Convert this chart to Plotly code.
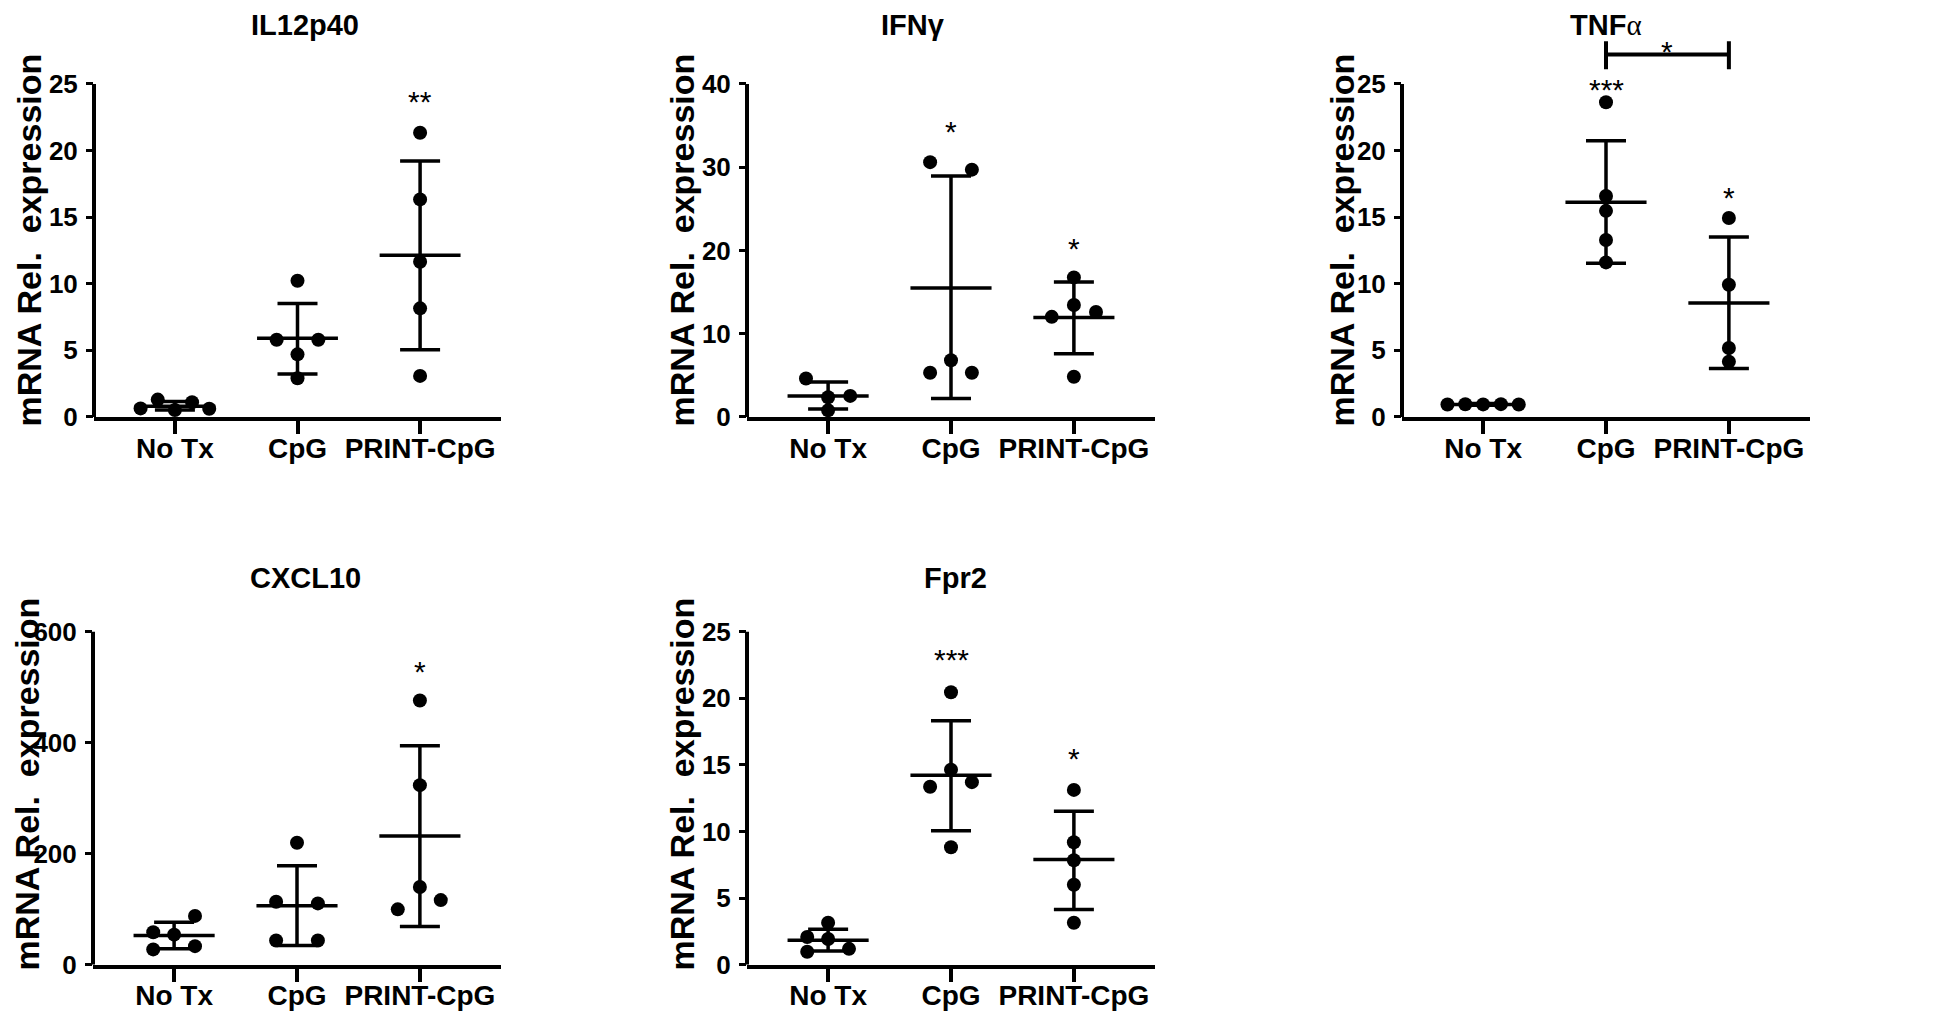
import plotly.graph_objects as go

# ---------------- data ----------------
categories = ["No Tx", "CpG", "PRINT-CpG"]

# IL12p40
il12_notx = [0.64, 1.30, 0.52, 1.10, 0.62]
il12_cpg = [5.79, 10.22, 4.70, 2.90, 5.79]
il12_print = [21.33, 16.33, 11.65, 8.15, 3.08]
il12_mean = [0.81, 5.91, 12.14]
il12_upper = [1.16, 8.52, 19.21]
il12_lower = [0.52, 3.23, 5.05]
il12_ticks = [0, 5, 10, 15, 20, 25]

# IFN-gamma
ifng_notx = [4.62, 2.37, 2.53, 0.79]
ifng_cpg = [30.6, 29.7, 6.8, 5.3, 5.3]
ifng_print = [16.76, 13.44, 12.02, 12.6, 4.82]
ifng_mean = [2.53, 15.49, 11.94]
ifng_upper = [4.19, 28.93, 16.2]
ifng_lower = [0.95, 2.21, 7.59]
ifng_ticks = [0, 10, 20, 30, 40]

# TNF-alpha
tnfa_notx = [0.93, 0.95, 0.94, 0.96, 0.93]
tnfa_cpg = [23.62, 16.58, 15.47, 13.28, 11.6]
tnfa_print = [14.93, 9.92, 5.18, 4.15]
tnfa_mean = [0.94, 16.12, 8.56]
tnfa_upper = [1.0, 20.73, 13.5]
tnfa_lower = [0.88, 11.53, 3.63]
tnfa_ticks = [0, 5, 10, 15, 20, 25]

# CXCL10
cxcl10_notx = [88.2, 58.6, 54.4, 27.8, 33.7]
cxcl10_cpg = [220.0, 113.6, 110.7, 43.8, 43.8]
cxcl10_print = [476.3, 323.7, 140.2, 100.0, 116.6]
cxcl10_mean = [52.7, 106.5, 232.0]
cxcl10_upper = [76.9, 178.7, 394.7]
cxcl10_lower = [29.0, 34.9, 69.2]
cxcl10_ticks = [0, 200, 400, 600]

# Fpr2
fpr2_notx = [3.16, 2.09, 1.94, 0.98, 1.2]
fpr2_cpg = [20.46, 14.65, 13.37, 13.71, 8.83]
fpr2_print = [13.13, 9.2, 7.85, 6.01, 3.16]
fpr2_mean = [1.84, 14.23, 7.9]
fpr2_upper = [2.67, 18.33, 11.53]
fpr2_lower = [1.03, 10.06, 4.15]
fpr2_ticks = [0, 5, 10, 15, 20, 25]

# significance labels: (text, category index, value height)
il12_sig = [("**", 2, 23.7)]
ifng_sig = [("*", 1, 34.3), ("*", 2, 20.2)]
tnfa_sig = [("***", 1, 24.6), ("*", 2, 16.5), ("*", 1.5, 27.4)]
cxcl10_sig = [("*", 2, 529)]
fpr2_sig = [("***", 1, 22.9), ("*", 2, 15.5)]

# TNF-alpha bracket between CpG and PRINT-CpG
tnfa_bracket_cats = [1, 2]
tnfa_bracket_level = 27.2
tnfa_bracket_span = [26.1, 28.2]

# horizontal scatter of points within a column (category units)
il12_jit = [[-0.28, -0.14, 0, 0.14, 0.28], [-0.17, 0, 0, 0, 0.17], [0, 0, 0, 0, 0]]
ifng_jit = [[-0.18, 0, 0.18, 0], [-0.17, 0.17, 0, -0.17, 0.17], [0, 0, -0.18, 0.18, 0]]
tnfa_jit = [[-0.29, -0.145, 0, 0.145, 0.29], [0, 0, 0, 0, 0], [0, 0, 0, 0]]
cxcl10_jit = [[0.17, -0.17, 0, -0.17, 0.17], [0, -0.17, 0.17, -0.17, 0.17], [0, 0, 0, -0.18, 0.17]]
fpr2_jit = [[0, -0.17, 0, -0.17, 0.17], [0, 0, -0.17, 0.17, 0], [0, 0, 0, 0, 0]]

titles = ["IL12p40", "IFNγ",
          "TNF<span style='font-weight:normal;font-family:\"Liberation Serif\",serif'>α</span>",
          "CXCL10", "Fpr2"]
ytitle = "mRNA Rel.\u00a0 expression"

panels = [
    dict(groups=[il12_notx, il12_cpg, il12_print], jit=il12_jit, mean=il12_mean,
         upper=il12_upper, lower=il12_lower, ticks=il12_ticks, sig=il12_sig),
    dict(groups=[ifng_notx, ifng_cpg, ifng_print], jit=ifng_jit, mean=ifng_mean,
         upper=ifng_upper, lower=ifng_lower, ticks=ifng_ticks, sig=ifng_sig),
    dict(groups=[tnfa_notx, tnfa_cpg, tnfa_print], jit=tnfa_jit, mean=tnfa_mean,
         upper=tnfa_upper, lower=tnfa_lower, ticks=tnfa_ticks, sig=tnfa_sig),
    dict(groups=[cxcl10_notx, cxcl10_cpg, cxcl10_print], jit=cxcl10_jit, mean=cxcl10_mean,
         upper=cxcl10_upper, lower=cxcl10_lower, ticks=cxcl10_ticks, sig=cxcl10_sig),
    dict(groups=[fpr2_notx, fpr2_cpg, fpr2_print], jit=fpr2_jit, mean=fpr2_mean,
         upper=fpr2_upper, lower=fpr2_lower, ticks=fpr2_ticks, sig=fpr2_sig),
]

# ---------------- layout geometry (pixels) ----------------
W, H = 1950, 1028
# x_left, x_right, y_zero, y_top_tick, y_domain_top
boxes = [
    (86, 493, 415, 77, 28),
    (739, 1147, 415, 77, 28),
    (1394, 1802, 415, 77, 28),
    (85, 493, 971, 633, 600),
    (739, 1147, 971, 633, 600),
]
title_pos = [(297, 17), (905, 17), (1598, 17), (297, 578), (947, 578)]
ytitle_pos = [(21, 236), (674, 236), (1334, 236), (19, 788), (674, 788)]

FONT = "Liberation Sans, Arial, sans-serif"
XR = [-0.66, 2.66]
MEAN_HW = 0.33

fig = go.Figure()
annotations = []
shapes = []
layout_axes = {}

for i, (p, box) in enumerate(zip(panels, boxes)):
    n = i + 1
    sfx = "" if n == 1 else str(n)
    xa, ya = "x" + sfx, "y" + sfx
    xl, xr, y0, yt, ytop = box
    tmax = p["ticks"][-1]
    rtop = tmax * (y0 - ytop) / (y0 - yt)

    layout_axes["xaxis" + sfx] = dict(
        domain=[xl / W, xr / W], anchor=ya, range=XR,
        tickmode="array", tickvals=[0, 1, 2], ticktext=categories,
        showline=True, linewidth=4, linecolor="black",
        ticks="outside", ticklen=13, tickwidth=4, tickcolor="black",
        tickfont=dict(family=FONT, size=28, color="black", weight="bold"),
        ticklabelstandoff=-10,
        showgrid=False, zeroline=False, fixedrange=True,
    )
    layout_axes["yaxis" + sfx] = dict(
        domain=[1 - y0 / H, 1 - ytop / H], anchor=xa, range=[0, rtop],
        tickmode="array", tickvals=p["ticks"],
        showline=False, ticks="outside", ticklen=7, tickwidth=3, tickcolor="black",
        tickfont=dict(family=FONT, size=26, color="black", weight="bold"),
        ticklabelstandoff=3,
        showgrid=False, zeroline=False, fixedrange=True,
    )
    # vertical axis line from 0 to the top tick
    shapes.append(dict(type="line", xref=xa + " domain", yref=ya, x0=0, x1=0,
                       y0=0, y1=tmax, line=dict(color="black", width=4)))

    # SD error bars
    fig.add_trace(go.Scatter(
        x=[0, 1, 2], y=p["mean"], xaxis=xa, yaxis=ya, mode="markers",
        marker=dict(size=1, color="rgba(0,0,0,0)"),
        error_y=dict(type="data", symmetric=False,
                     array=[u - m for u, m in zip(p["upper"], p["mean"])],
                     arrayminus=[m - l for m, l in zip(p["mean"], p["lower"])],
                     width=20, thickness=3.5, color="black"),
        hoverinfo="skip", showlegend=False, cliponaxis=False,
    ))
    # mean lines
    mx, my = [], []
    for c, m in enumerate(p["mean"]):
        mx += [c - MEAN_HW, c + MEAN_HW, None]
        my += [m, m, None]
    fig.add_trace(go.Scatter(x=mx, y=my, xaxis=xa, yaxis=ya, mode="lines",
                             line=dict(color="black", width=3.5),
                             hoverinfo="skip", showlegend=False))
    # individual points
    px, py = [], []
    for c, (vals, jit) in enumerate(zip(p["groups"], p["jit"])):
        px += [c + j for j in jit]
        py += list(vals)
    fig.add_trace(go.Scatter(x=px, y=py, xaxis=xa, yaxis=ya, mode="markers",
                             marker=dict(size=14, color="black", line=dict(width=0)),
                             showlegend=False, cliponaxis=False))
    # significance stars
    for txt, c, v in p["sig"]:
        annotations.append(dict(text=txt, x=c, y=v, xref=xa, yref=ya, showarrow=False,
                                xanchor="center", yanchor="middle",
                                font=dict(family=FONT, size=30, color="black")))
    # panel title
    tx, ty = title_pos[i]
    annotations.append(dict(text=titles[i], x=tx / W, y=1 - ty / H, xref="paper", yref="paper",
                            showarrow=False, xanchor="center", yanchor="middle",
                            font=dict(family=FONT, size=29, color="black", weight="bold")))
    # y-axis title
    yx, yy = ytitle_pos[i]
    annotations.append(dict(text=ytitle, x=yx / W, y=1 - yy / H, xref="paper", yref="paper",
                            showarrow=False, xanchor="center", yanchor="middle", textangle=-90,
                            font=dict(family=FONT, size=34, color="black", weight="bold")))

# bracket on the TNF-alpha panel
bx, by = [], []
c0, c1 = tnfa_bracket_cats
bx += [c0, c1, None, c0, c0, None, c1, c1]
by += [tnfa_bracket_level, tnfa_bracket_level, None,
       tnfa_bracket_span[0], tnfa_bracket_span[1], None,
       tnfa_bracket_span[0], tnfa_bracket_span[1]]
fig.add_trace(go.Scatter(x=bx, y=by, xaxis="x3", yaxis="y3", mode="lines",
                         line=dict(color="black", width=4), hoverinfo="skip",
                         showlegend=False))

fig.update_layout(
    width=W, height=H, margin=dict(l=0, r=0, t=0, b=0),
    paper_bgcolor="white", plot_bgcolor="white",
    showlegend=False, annotations=annotations, shapes=shapes,
    font=dict(family=FONT, color="black"),
    **layout_axes,
)

fig.write_html("out.html")
